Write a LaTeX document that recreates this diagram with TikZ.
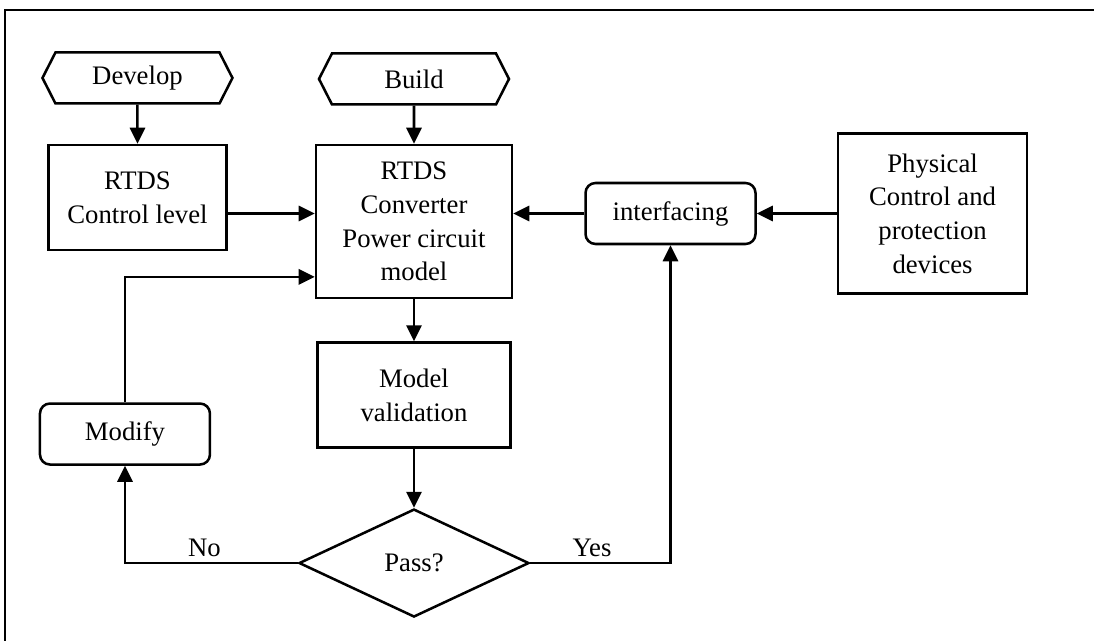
\documentclass[tikz,border=0pt]{standalone}
\usepackage{fontspec}
\setmainfont{Liberation Serif}
\usetikzlibrary{positioning,shapes.geometric,shapes.symbols,arrows.meta,calc}
\tikzset{
  hx/.style={signal, signal to=west and east, signal pointer angle=126, minimum width=4.75cm, minimum height=1.275cm, text centered, draw=black, inner sep=0pt},
  bx/.style={rectangle, text centered, align=center, draw=black},
  rbx/.style={rectangle, rounded corners=0.25cm, minimum width=4.25cm, minimum height=1.525cm, text centered, draw=black},
  dm/.style={diamond, aspect=2.13, minimum width=5.75cm, minimum height=2.7cm, inner sep=0pt, text centered, draw=black},
  node distance=1cm
}
\begin{document}
\begin{tikzpicture}[line width=1.8pt, >={Triangle[length=0.4cm,width=0.38cm]}, font=\fontsize{19}{24}\selectfont]
	\useasboundingbox (-10.35,-10.4875) rectangle (17.0,5.5375);
	\draw[line width=2pt] (-10.225,-10.4875) -- (-10.225,5.2875) -- (17.0,5.2875);
	%
	\node[bx, minimum width=4.9cm, minimum height=3.825cm] (rtds) {RTDS\\Converter\\Power circuit\\model};
	\node[hx, above=0.95cm of rtds] (build) {Build};
	\node[bx, minimum width=4.45cm, minimum height=2.625cm, left=2.175cm of rtds.north west, anchor=north east] (ctrl) {RTDS\\Control level};
	\node[hx, above=0.975cm of ctrl] (develop) {Develop};
	\node[rbx, right=1.775cm of rtds, yshift=0.2cm] (iface) {interfacing};
	\node[bx, minimum width=4.725cm, minimum height=4cm, right=2cm of iface] (phys) {Physical\\Control and\\protection\\devices};
	\node[bx, minimum width=4.825cm, minimum height=2.625cm, below=1.05cm of rtds] (valid) {Model\\validation};
	\node[dm, below=1.475cm of valid] (pass) {Pass?};
	\node[rbx, left=2.625cm of valid, yshift=-0.975cm] (modify) {Modify};
	\coordinate (back) at ($(rtds.south west)!0.144!(rtds.north west)$);
	%
	\draw[->] (develop) -- (ctrl);
	\draw[->] (build) -- (rtds);
	\draw[->] (ctrl.east |- iface.west) -- (rtds.west |- iface.west);
	\draw[->] (iface.west) -- (rtds.east |- iface.west);
	\draw[->] (phys) -- (iface);
	\draw[->] (rtds.south) -- (rtds.south |- valid.north);
	\draw[->] (valid) -- (pass);
	\draw[->] (pass.west) -| node[above, pos=0.27] {No} (modify.south);
	\draw[->] (pass.east) -| node[above, pos=0.22] {Yes} (iface.south);
	\draw[->] (modify.north) |- (back);
\end{tikzpicture}
\end{document}
